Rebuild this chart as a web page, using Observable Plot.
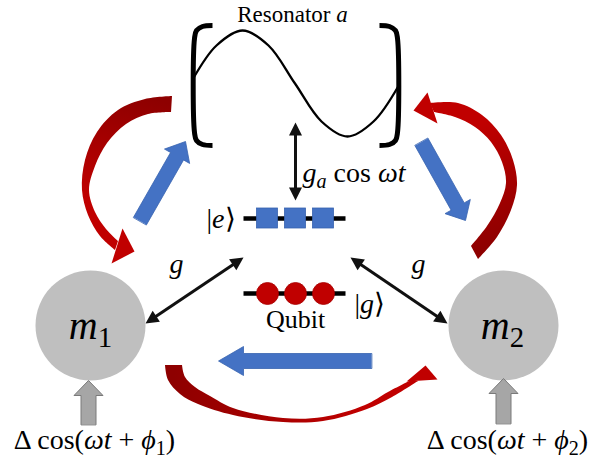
<!DOCTYPE html>
<html><head><meta charset="utf-8">
<script src="https://cdn.jsdelivr.net/npm/d3@7"></script>
<script src="https://cdn.jsdelivr.net/npm/@observablehq/plot@0.6"></script>
<style>html,body{margin:0;padding:0;background:#fff}svg{display:block}
.lbl{font-family:"Liberation Serif","Times New Roman",serif}</style>
</head><body><div id="chart"></div>
<script>
// ---------- diagram data (diagram coordinate space: 595 x 465 units, y downward) ----------
const W = 595, H = 465;

// resonator: standing wave and the two cavity brackets
const resonatorWave = [[193,77.5],[216,45],[242,30],[268,45],[294.5,83],[321,121],[347,136],[373,121],[398,85.5]];
const bracketLeft  = [[212,25],[202,26],[196,30],[194,38],[194,132],[196,140],[202,144],[212,145]];
const bracketRight = [[379,25],[389,26],[395,30],[397,38],[397,132],[395,140],[389,144],[379,145]];

// qubit levels and populations
const levelSpan = [243, 345];
const levels = [{state:"e", y:218}, {state:"g", y:293}];
const slots = [267, 295, 323];

// modes
const modes = [{label:"m1", x:90, y:325}, {label:"m2", x:503, y:325}];

// coherent couplings (double-headed black arrows)
const couplings = [
  {name:"ga", a:[295,122], b:[295,200]},
  {name:"g1", a:[145,323], b:[243,257]},
  {name:"g2", a:[447,323], b:[350,257]}
];

// energy-flow arrows (blue), tail -> tip
const flowArrows = [
  {tail:[139.5,220.5], tip:[185,141], headL:17},
  {tail:[421,141.5],   tip:[465,220], headL:16},
  {tail:[371,360.5],   tip:[218,360.5], headL:25}
];

// drive arrows (grey), tail -> tip
const driveArrows = [{tail:[88,424], tip:[88,380]}, {tail:[503,423], tip:[503,378]}];

// circulation arrows (red): outer edge, inner edge, head triangle
const redArrows = [
  {id:"redL",
   outer:[[172,96],[145,99],[118,110],[97,132],[85,160],[82,190],[88,215],[100,236],[115,250]],
   inner:[[171,112],[148,114],[126,124],[107,143],[95,166],[89,190],[95,212],[106,229],[118,241]],
   head:[[122,228],[134,251],[111,263]]},
  {id:"redR",
   outer:[[478,259],[497,237],[511,210],[517,185],[513,160],[501,135],[482,115],[458,103],[430,103]],
   inner:[[471,246],[487,226],[500,203],[506,183],[502,162],[491,142],[475,127],[455,117],[434,112]],
   head:[[427,92],[413,110],[437,123]]},
  {id:"redB",
   outer:[[165,365],[168,380],[180,394],[198,404],[233,415],[283,422],[323,421],[367,409],[392,397],[418,381]],
   inner:[[182,365],[185,377],[195,387],[210,396],[233,408],[283,418],[323,417],[365,405],[388,392],[411,380]],
   head:[[406,381],[425,365],[437,379]]}
];

// text labels: parts are [text, style] with style "" | "i" | "sub" | "isub"
const labels = [
  {kind:"title", x:292, y:21,  anchor:"middle", parts:[["Resonator "],["a","i"]]},
  {kind:"math",  x:302, y:181, anchor:"start",  parts:[["g","i"],["a","isub"],[" cos "],["ωt","i"]]},
  {kind:"math",  x:235, y:227, anchor:"end",    parts:[["|"],["e","i"],["⟩"]]},
  {kind:"math",  x:354, y:312, anchor:"start",  parts:[["|"],["g","i"],["⟩"]]},
  {kind:"qubit", x:295, y:327, anchor:"middle", parts:[["Qubit"]]},
  {kind:"math",  x:176, y:272, anchor:"middle", parts:[["g","i"]]},
  {kind:"math",  x:418, y:272, anchor:"middle", parts:[["g","i"]]},
  {kind:"mode",  x:90,  y:338, anchor:"middle", parts:[["m","i"],["1","sub"]]},
  {kind:"mode",  x:502, y:338, anchor:"middle", parts:[["m","i"],["2","sub"]]},
  {kind:"drive", x:94,  y:448, anchor:"middle", parts:[["Δ cos("],["ωt","i"],[" + "],["ϕ","i"],["1","sub"],[")"]]},
  {kind:"drive", x:507, y:448, anchor:"middle", parts:[["Δ cos("],["ωt","i"],[" + "],["ϕ","i"],["2","sub"],[")"]]}
];

// ---------- styles ----------
const FONT = "Liberation Serif";
const labelSize = {title:23, qubit:26, math:28, mode:40, drive:28};
const BLUE = "#4472C4", BLUE_EDGE = "#3763b0";
const RED = "#C00000", RED_DARK = "#8e0000";
const GREY_MODE = "#BFBFBF", GREY_ARROW = "#A6A6A6";

// ---------- geometry helpers ----------
function unit(a, b) { const dx=b[0]-a[0], dy=b[1]-a[1], L=Math.hypot(dx,dy); return [dx/L, dy/L, L]; }
function blockArrow(id, tail, tip, sw, hw, hl) {
  const [ux, uy] = unit(tail, tip), nx = -uy, ny = ux;
  const base = [tip[0]-ux*hl, tip[1]-uy*hl];
  const p = (pt, k) => ({id, x: pt[0]+nx*k, y: pt[1]+ny*k});
  return [p(tail, sw/2), p(base, sw/2), p(base, hw/2), {id, x:tip[0], y:tip[1]},
          p(base, -hw/2), p(base, -sw/2), p(tail, -sw/2)];
}
function headTri(id, from, tip, hw, hl) {
  const [ux, uy] = unit(from, tip), nx = -uy, ny = ux;
  const bx = tip[0]-ux*hl, by = tip[1]-uy*hl;
  return [{id, x:bx+nx*hw/2, y:by+ny*hw/2}, {id, x:tip[0], y:tip[1]}, {id, x:bx-nx*hw/2, y:by-ny*hw/2}];
}

const HL = 13, HW = 13;
const couplingLines = couplings.map(c => {
  const [ux, uy] = unit(c.a, c.b);
  return {x1:c.a[0]+ux*(HL-2), y1:c.a[1]+uy*(HL-2), x2:c.b[0]-ux*(HL-2), y2:c.b[1]-uy*(HL-2)};
});
const couplingHeads = couplings.flatMap(c => [...headTri(c.name+"b", c.a, c.b, HW, HL), ...headTri(c.name+"a", c.b, c.a, HW, HL)]);

const flowPolys = flowArrows.flatMap((f, i) => blockArrow("f"+i, f.tail, f.tip, 15, 29, f.headL));
const drivePolys = driveArrows.flatMap((d, i) => blockArrow("d"+i, d.tail, d.tip, 15, 29, 15));

const redBodies = redArrows.map(r => r.outer.map((o, i) => ({x1:o[0], y1:o[1], x2:r.inner[i][0], y2:r.inner[i][1]})));
const redHeads = redArrows.flatMap(r => r.head.map(h => ({id:r.id, x:h[0], y:h[1]})));

const brackets = [...bracketLeft.map(p => ({b:"L", x:p[0], y:p[1]})), ...bracketRight.map(p => ({b:"R", x:p[0], y:p[1]}))];
const levelSegs = levels.map(l => ({x1:levelSpan[0], x2:levelSpan[1], y:l.y}));
const eY = levels.find(l => l.state==="e").y, gY = levels.find(l => l.state==="g").y;

const NS = "http://www.w3.org/2000/svg";
function gradientDefs(index, scales) {
  const sx = scales && scales.x ? scales.x : (v => v), sy = scales && scales.y ? scales.y : (v => v);
  const defs = document.createElementNS(NS, "defs");
  redArrows.forEach(r => {
    const g = document.createElementNS(NS, "linearGradient");
    const t0 = r.outer[0], t1 = r.inner[0], h = r.head[1];
    g.setAttribute("id", r.id);
    g.setAttribute("gradientUnits", "userSpaceOnUse");
    g.setAttribute("x1", sx((t0[0]+t1[0])/2)); g.setAttribute("y1", sy((t0[1]+t1[1])/2));
    g.setAttribute("x2", sx(h[0])); g.setAttribute("y2", sy(h[1]));
    [[0, RED_DARK], [0.75, RED], [1, RED]].forEach(([o, c]) => {
      const s = document.createElementNS(NS, "stop");
      s.setAttribute("offset", o); s.setAttribute("stop-color", c); g.appendChild(s);
    });
    defs.appendChild(g);
  });
  return defs;
}

const svg = Plot.plot({
  width: W, height: H, margin: 0,
  x: {domain:[0, W], range:[0, W], axis:null},
  y: {domain:[0, H], range:[0, H], axis:null},
  style: {background:"white", overflow:"visible"},
  marks: [
    gradientDefs,
    ...redBodies.map((b, i) => Plot.area(b, {x1:"x1", y1:"y1", x2:"x2", y2:"y2", curve:"catmull-rom", fill:`url(#${redArrows[i].id})`})),
    Plot.line(redHeads, {x:"x", y:"y", z:"id", fill:RED, curve:"linear-closed"}),
    Plot.line(brackets, {x:"x", y:"y", z:"b", stroke:"black", strokeWidth:5, curve:"catmull-rom", strokeLinecap:"butt"}),
    Plot.line(resonatorWave, {x:d=>d[0], y:d=>d[1], stroke:"black", strokeWidth:2.3, curve:"catmull-rom"}),
    Plot.link(levelSegs, {x1:"x1", x2:"x2", y1:"y", y2:"y", stroke:"black", strokeWidth:4.5}),
    Plot.rect(slots, {x1:d=>d-10.5, x2:d=>d+10.5, y1:()=>eY-10, y2:()=>eY+10, fill:BLUE, stroke:BLUE_EDGE, strokeWidth:0.8}),
    Plot.dot(slots, {x:d=>d, y:()=>gY, r:11, fill:RED, stroke:"#a80000", strokeWidth:0.8}),
    Plot.link(couplingLines, {x1:"x1", y1:"y1", x2:"x2", y2:"y2", stroke:"#111", strokeWidth:3}),
    Plot.line(couplingHeads, {x:"x", y:"y", z:"id", fill:"#111", curve:"linear-closed"}),
    Plot.dot(modes, {x:"x", y:"y", r:55, fill:GREY_MODE}),
    Plot.line(flowPolys, {x:"x", y:"y", z:"id", fill:BLUE, stroke:BLUE_EDGE, strokeWidth:0.8, curve:"linear-closed"}),
    Plot.line(drivePolys, {x:"x", y:"y", z:"id", fill:GREY_ARROW, stroke:"#7a7a7a", strokeWidth:1, curve:"linear-closed"}),
    Plot.text(labels, {x:"x", y:"y", text:d=>d.parts.map(p=>p[0]).join(""), lineAnchor:"bottom", fontFamily:FONT, fill:"black"})
  ]
});

// rich text: italic math symbols and subscripts
const textEls = svg.querySelectorAll('g[aria-label="text"] text');
textEls.forEach((el, i) => {
  const L = labels[i];
  if (!L) return;
  const size = labelSize[L.kind];
  el.setAttribute("class", "lbl");
  el.setAttribute("font-family", FONT);
  el.setAttribute("font-size", size);
  el.style.fontSize = size + "px";
  el.style.fontFamily = '"Liberation Serif", serif';
  el.setAttribute("text-anchor", L.anchor);
  el.textContent = "";
  let shift = 0;
  L.parts.forEach(([s, f = ""]) => {
    const ts = document.createElementNS(NS, "tspan");
    const sub = f.includes("sub");
    const target = sub ? size * 0.22 : 0;
    if (target !== shift) { ts.setAttribute("dy", target - shift); shift = target; }
    if (f.includes("i")) ts.setAttribute("font-style", "italic");
    if (sub) ts.setAttribute("font-size", size * 0.72);
    ts.textContent = s;
    el.appendChild(ts);
  });
});

document.getElementById("chart").appendChild(svg);
</script>
</body></html>
